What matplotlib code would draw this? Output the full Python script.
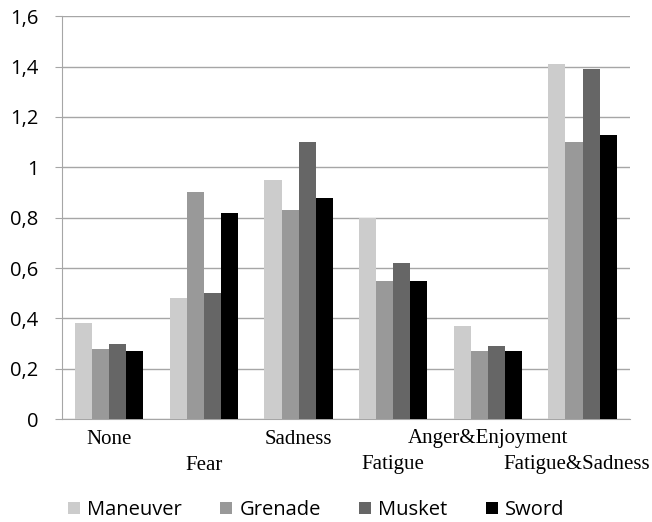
import matplotlib
matplotlib.use("Agg")
import matplotlib.pyplot as plt
import matplotlib.transforms as mtransforms
import numpy as np

categories = ["None", "Fear", "Sadness", "Fatigue", "Anger&Enjoyment", "Fatigue&Sadness"]
series_names = ["Maneuver", "Grenade", "Musket", "Sword"]
maneuver = [0.38, 0.48, 0.95, 0.80, 0.37, 1.41]
grenade = [0.28, 0.90, 0.83, 0.55, 0.27, 1.10]
musket = [0.30, 0.50, 1.10, 0.62, 0.29, 1.39]
sword = [0.27, 0.82, 0.88, 0.55, 0.27, 1.13]
colors = ["#cccccc", "#999999", "#666666", "#000000"]

fig = plt.figure(figsize=(6.52, 5.22), dpi=100)
ax = fig.add_axes([0.095, 0.197, 0.871, 0.772])

x = np.arange(len(categories))
width = 0.18
for i, (name, vals) in enumerate(zip(series_names, [maneuver, grenade, musket, sword])):
    ax.bar(x + (i - 1.5) * width, vals, width, color=colors[i], label=name, zorder=3)

ax.set_xlim(-0.5, len(categories) - 0.5)
ax.set_ylim(0, 1.6)
ax.set_yticks(np.arange(0, 1.61, 0.2))
ax.yaxis.set_major_formatter(lambda v, _: f"{v:.1f}".rstrip("0").rstrip(".").replace(".", ","))
ax.grid(True, axis="y", color="#a6a6a6", linewidth=1, zorder=0)

for s in ["top", "right"]:
    ax.spines[s].set_visible(False)
for s in ["left", "bottom"]:
    ax.spines[s].set_color("#a6a6a6")

ax.tick_params(axis="y", length=5, color="#a6a6a6", labelsize=14.5, pad=12)
for lbl in ax.get_yticklabels():
    lbl.set_family("Open Sans")

# staggered category labels (two rows, like the Excel original)
ax.set_xticks(x)
ax.set_xticklabels([])
ax.tick_params(axis="x", length=0)
trans = mtransforms.blended_transform_factory(ax.transData, fig.transFigure)
labels = []
for i, c in enumerate(categories):
    ypos = 1 - 439 / 522 if i % 2 == 0 else 1 - 465 / 522
    t = ax.text(x[i], ypos, c, transform=trans, ha="center", va="center",
                family="Liberation Serif", fontsize=15, clip_on=False)
    labels.append(t)

# nudge labels that would run past the right edge of the figure
fig.canvas.draw()
renderer = fig.canvas.get_renderer()
fig_w = fig.bbox.width
for t in labels:
    bb = t.get_window_extent(renderer)
    if bb.x1 > fig_w - 2:
        shift = bb.x1 - (fig_w - 2)
        t.set_transform(trans + mtransforms.Affine2D().translate(-shift, 0))

fig.legend(loc="center", bbox_to_anchor=(0.485, 1 - 510 / 522), ncol=4, frameon=False,
           handlelength=0.6, handleheight=0.6, handletextpad=0.35, columnspacing=1.9,
           prop={"family": "Open Sans", "size": 14.5})

plt.savefig("out.png", dpi=100)
